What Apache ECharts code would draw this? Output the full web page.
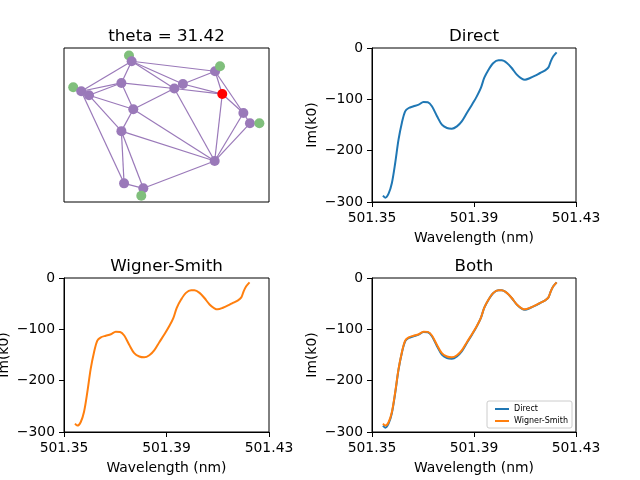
<!DOCTYPE html>
<html><head><meta charset="utf-8">
<script src="https://cdn.jsdelivr.net/npm/echarts@6/dist/echarts.min.js"></script>
<style>html,body{margin:0;padding:0;background:#fff}#c{width:640px;height:480px}</style>
</head><body><div id="c"></div>
<script>
// ---- curve data ----
const wavelength = [501.3543, 501.3552, 501.3565, 501.3578, 501.3591, 501.3604, 501.3617, 501.3630, 501.3644, 501.3663,
  501.3683, 501.3702, 501.3719, 501.3735, 501.3755, 501.3774, 501.3794, 501.3813, 501.3833, 501.3852,
  501.3872, 501.3892, 501.3911, 501.3927, 501.3940, 501.3957, 501.3976, 501.3996, 501.4009, 501.4029,
  501.4048, 501.4068, 501.4087, 501.4100, 501.4120, 501.4140, 501.4159, 501.4179, 501.4192, 501.4201,
  501.4211, 501.4224];
const directIm = [-287.7, -291.6, -283.8, -263, -224, -178.6, -146, -123.4, -116.9, -113.6,
  -110.4, -105.2, -105.8, -113.6, -133, -149.4, -155.8, -157.1, -152.6, -142.9,
  -126.6, -110.4, -94.2, -77.9, -58.4, -42.2, -29.2, -24, -24, -29.2,
  -39, -51.9, -59.7, -61.7, -58.4, -53.9, -48.7, -43.5, -37.7, -26,
  -16.2, -8.4];
const wignerSmithIm = [-283.8, -287.5, -281, -261, -222.5, -177.5, -145, -122, -115.5, -112.5,
  -109.5, -104.5, -105, -112, -130.5, -146.5, -153, -154.5, -150.5, -141,
  -125, -109.5, -93.5, -77.5, -58, -42, -29, -24, -24, -29,
  -39, -51.5, -59, -61, -58, -53.5, -48.5, -43.5, -37.7, -26,
  -16.2, -8.4];
const xTicks = [501.35, 501.39, 501.43];
const yTicks = [-300, -200, -100, 0];

// ---- network data ----
const nodeNames = ['A','B','C','D','E','F','G','H','I','J','K','L','M','N','R'];
const nodeX = [0.330, 0.737, 0.084, 0.122, 0.280, 0.538, 0.580, 0.338, 0.280, 0.875, 0.907, 0.735, 0.293, 0.387, 0.772];
const nodeY = [0.914, 0.849, 0.719, 0.693, 0.773, 0.737, 0.766, 0.602, 0.460, 0.578, 0.511, 0.266, 0.121, 0.089, 0.701];
const highlightedNode = 'R';
const edges = [['A','B'],['A','C'],['A','E'],['A','F'],['A','G'],['B','G'],['B','R'],['B','J'],
  ['C','D'],['C','E'],['D','E'],['C','M'],['D','I'],['D','H'],['E','H'],['E','F'],['F','R'],['G','R'],
  ['H','F'],['H','I'],['H','L'],['I','L'],['I','M'],['I','N'],['M','N'],['N','L'],['F','L'],['R','L'],
  ['J','L'],['K','L'],['J','K'],['R','J'],['F','G']];
const greenBehindX = [0.317, 0.045];
const greenBehindY = [0.951, 0.745];
const greenFrontX = [0.761, 0.953, 0.377];
const greenFrontY = [0.881, 0.511, 0.041];

const FONT = 'DejaVu Sans';
const minus = v => (v < 0 ? '\u2212' + Math.abs(v) : String(v));

const grids = [
  {left: 64, top: 48, width: 205, height: 154},
  {left: 372, top: 48, width: 204, height: 154},
  {left: 64, top: 278, width: 205, height: 154},
  {left: 372, top: 278, width: 204, height: 154}
].map(g => Object.assign(g, {show: true, borderColor: '#000', borderWidth: 1, backgroundColor: 'transparent',
  containLabel: false, outerBoundsMode: 'none'}));

function curveX(i) {
  return {
    type: 'value', gridIndex: i, min: 501.35, max: 501.43,
    name: 'Wavelength (nm)', nameLocation: 'middle', nameGap: 29,
    nameTextStyle: {fontFamily: FONT, fontSize: 13.9, color: '#000'},
    axisLine: {show: true, onZero: false, lineStyle: {color: '#000', width: 1}},
    axisTick: {show: true, length: 5, lineStyle: {color: '#000'}, customValues: xTicks},
    axisLabel: {show: true, margin: 9, fontFamily: FONT, fontSize: 13.9, color: '#000', customValues: xTicks,
      formatter: v => Number(v).toFixed(2)},
    splitLine: {show: false}
  };
}
function curveY(i) {
  return {
    type: 'value', gridIndex: i, min: -300, max: 0, interval: 100,
    name: 'Im(k0)', nameLocation: 'middle', nameGap: 53,
    nameTextStyle: {fontFamily: FONT, fontSize: 13.9, color: '#000'},
    axisLine: {show: true, onZero: false, lineStyle: {color: '#000', width: 1}},
    axisTick: {show: true, length: 5, lineStyle: {color: '#000'}},
    axisLabel: {show: true, margin: 9, fontFamily: FONT, fontSize: 13.9, color: '#000', formatter: minus},
    splitLine: {show: false}
  };
}
const hiddenAxis = i => ({type: 'value', gridIndex: i, min: 0, max: 1, show: false, splitLine: {show: false}});

const pairs = ys => wavelength.map((x, k) => [x, ys[k]]);
const lineSeries = (name, ys, color, idx, z) => ({
  type: 'line', name, data: pairs(ys), xAxisIndex: idx, yAxisIndex: idx,
  showSymbol: false, symbol: 'none', smooth: 0.3, z,
  lineStyle: {color, width: 2}, itemStyle: {color}, silent: true
});

const titleStyle = {fontFamily: FONT, fontSize: 16.7, fontWeight: 'normal', color: '#000'};
const mkTitle = (text, cx, top) => ({text, left: cx, top, textAlign: 'center', padding: 0, textStyle: titleStyle});

const graphNodes = nodeNames.map((n, k) => ({
  name: n, value: [nodeX[k], nodeY[k]],
  itemStyle: {color: n === highlightedNode ? '#ff0000' : '#9a79b9'},
  z: n === highlightedNode ? 10 : 5
}));

const option = {
  animation: false,
  backgroundColor: '#fff',
  title: [
    mkTitle('theta = 31.42', 166.5, 28),
    mkTitle('Direct', 474, 28),
    mkTitle('Wigner-Smith', 166.5, 258),
    mkTitle('Both', 474, 258)
  ],
  grid: grids,
  xAxis: [hiddenAxis(0), curveX(1), curveX(2), curveX(3)],
  yAxis: [hiddenAxis(0), curveY(1), curveY(2), curveY(3)],
  legend: {
    data: ['Direct', 'Wigner-Smith'], orient: 'vertical', right: 68, bottom: 52,
    icon: 'rect', itemWidth: 14, itemHeight: 2, itemGap: 4,
    textStyle: {fontFamily: FONT, fontSize: 8, color: '#000'},
    borderColor: '#cccccc', borderWidth: 1, borderRadius: 2, padding: [4, 4, 3, 8],
    backgroundColor: 'rgba(255,255,255,0.8)', selectedMode: false
  },
  series: [
    {type: 'scatter', data: greenBehindX.map((x, k) => [x, greenBehindY[k]]), xAxisIndex: 0, yAxisIndex: 0,
      symbolSize: 10, itemStyle: {color: '#80bf7c', opacity: 1}, z: 1, silent: true},
    {type: 'graph', coordinateSystem: 'cartesian2d', xAxisIndex: 0, yAxisIndex: 0,
      data: graphNodes, links: edges.map(([s, t]) => ({source: s, target: t})),
      symbolSize: 10, label: {show: false}, silent: true, z: 2,
      lineStyle: {color: '#9a79b9', width: 1.2, opacity: 1, curveness: 0},
      itemStyle: {opacity: 1}},
    {type: 'scatter', data: greenFrontX.map((x, k) => [x, greenFrontY[k]]), xAxisIndex: 0, yAxisIndex: 0,
      symbolSize: 10, itemStyle: {color: '#80bf7c', opacity: 1}, z: 3, silent: true},
    lineSeries('Direct', directIm, '#1f77b4', 1, 2),
    lineSeries('Wigner-Smith', wignerSmithIm, '#ff7f0e', 2, 2),
    lineSeries('Direct', directIm, '#1f77b4', 3, 2),
    lineSeries('Wigner-Smith', wignerSmithIm, '#ff7f0e', 3, 3)
  ]
};
const chart = echarts.init(document.getElementById('c'), null, {renderer: 'canvas'});
chart.setOption(option);
</script></body></html>
